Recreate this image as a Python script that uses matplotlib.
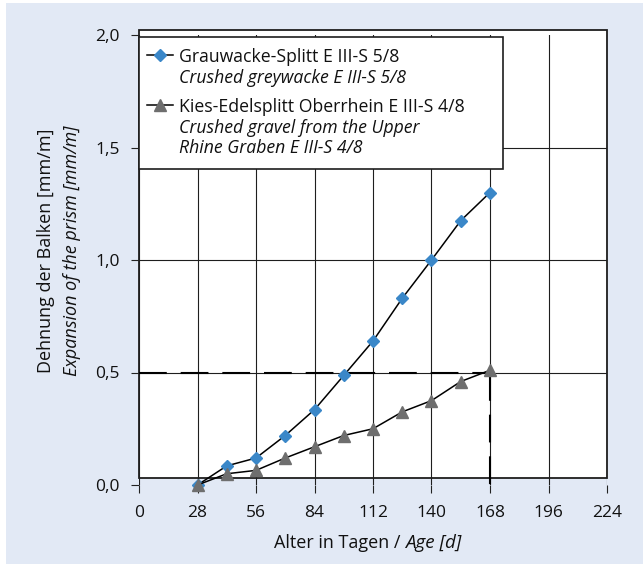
import matplotlib
matplotlib.use('Agg')
import matplotlib.pyplot as plt
from matplotlib.patches import Rectangle
from matplotlib.lines import Line2D
from matplotlib.transforms import Affine2D

plt.rcParams['font.family'] = ['Open Sans', 'DejaVu Sans']
plt.rcParams['lines.scale_dashes'] = False

# ---- data ----
days = [28, 42, 56, 70, 84, 98, 112, 126, 140, 154, 168]
greywacke = [0.0, 0.085, 0.12, 0.22, 0.335, 0.487, 0.64, 0.83, 1.0, 1.175, 1.30]
gravel = [0.0, 0.05, 0.065, 0.12, 0.17, 0.22, 0.25, 0.325, 0.375, 0.46, 0.51]
x_ticks = [0, 28, 56, 84, 112, 140, 168, 196, 224]
y_ticks = [0.0, 0.5, 1.0, 1.5, 2.0]
y_tick_labels = ['0,0', '0,5', '1,0', '1,5', '2,0']
grid_y = [0.5, 1.0, 1.5]
ref_value = 0.5
ref_day = 168
legend_de = ['Grauwacke-Splitt E III-S 5/8', 'Kies-Edelsplitt Oberrhein E III-S 4/8']
legend_en = [['Crushed greywacke E III-S 5/8'],
             ['Crushed gravel from the Upper', 'Rhine Graben E III-S 4/8']]
ylabel_de = 'Dehnung der Balken [mm/m]'
ylabel_en = 'Expansion of the prism [mm/m]'
xlabel_de = 'Alter in Tagen /'
xlabel_en = 'Age [d]'

BG = '#E2E9F5'
BLUE = '#3A87C8'
GRAY = '#6E6E6E'
FS_TICK = 12.5
FS_LEG = 12.7
FS_LAB = 13

W, H = 643, 565
fig = plt.figure(figsize=(W / 100, H / 100), dpi=100)
fig.patch.set_facecolor('white')
px = Affine2D().scale(1 / W, -1 / H).translate(0, 1) + fig.transFigure

fig.add_artist(Rectangle((6, 3), 637, 561, transform=px, facecolor=BG,
                         edgecolor='none', zorder=-10))

ax = fig.add_axes([139 / W, 1 - 485 / H, (607 - 139) / W, (485 - 35) / H])
ax.patch.set_visible(False)
for s in ax.spines.values():
    s.set_visible(False)
ax.set_xlim(0, 224)
ax.set_ylim(0, 2.0)

# plot frame (offset slightly above the zero line as in the original)
ax.add_patch(Rectangle((0, 7 / 450), 1, 455 / 450 - 7 / 450, transform=ax.transAxes,
                       facecolor='white', edgecolor='#1e1e1e', lw=1.3, zorder=0,
                       clip_on=False))

ax.set_xticks(x_ticks)
ax.set_xticklabels([str(v) for v in x_ticks])
ax.set_yticks(y_ticks)
ax.set_yticklabels(y_tick_labels)
ax.tick_params(axis='both', direction='out', length=5.8, width=0.8, color='#222222',
               labelsize=FS_TICK, labelcolor='#111111')
ax.tick_params(axis='x', pad=8.5)
ax.tick_params(axis='y', pad=8)
ax.xaxis.grid(True, color='#1e1e1e', lw=0.8)
ax.hlines(grid_y, 0, 224, color='#1e1e1e', lw=0.8, zorder=1)

ax.plot([0, ref_day], [ref_value, ref_value], color='black', lw=1.5,
        dashes=(20, 10), zorder=3, clip_on=False)
ax.plot([ref_day, ref_day], [ref_value, 0], color='black', lw=1.5,
        dashes=(20, 10), zorder=3, clip_on=False)

ax.plot(days, greywacke, color='black', lw=1.1, marker='D', ms=6.5, mfc=BLUE, mec=BLUE,
        zorder=4, clip_on=False)
ax.plot(days, gravel, color='black', lw=1.1, marker='^', ms=8.5, mfc=GRAY, mec=GRAY,
        zorder=5, clip_on=False)

# ---- legend (drawn manually for mixed upright / italic lines) ----
fig.add_artist(Rectangle((139, 36.7), 364, 132.3, transform=px, facecolor='white',
                         edgecolor='#1e1e1e', lw=1.2, zorder=6))
rows = [(61.7, [83.3]), (111.7, [133.3, 153.3])]
styles = [dict(marker='D', ms=6.5, mfc=BLUE, mec=BLUE),
          dict(marker='^', ms=8.5, mfc=GRAY, mec=GRAY)]
for i, (base, subs) in enumerate(rows):
    yc = base - 6.5
    fig.add_artist(Line2D([147, 173], [yc, yc], transform=px, color='black', lw=1.1,
                          zorder=7))
    fig.add_artist(Line2D([160], [yc], transform=px, lw=0, zorder=8, **styles[i]))
    fig.text(179, base, legend_de[i], transform=px, va='baseline', ha='left',
             fontsize=FS_LEG, color='#111111', zorder=8)
    for t, b in zip(legend_en[i], subs):
        fig.text(179, b, t, transform=px, va='baseline', ha='left', style='italic',
                 fontsize=FS_LEG, color='#111111', zorder=8)

# ---- axis labels ----
fig.text(46, 251, ylabel_de, transform=px, rotation=90, ha='center', va='center',
         fontsize=FS_LAB, color='#111111')
fig.text(72, 251, ylabel_en, transform=px, rotation=90, ha='center', va='center',
         fontsize=FS_LAB, style='italic', color='#111111')
fig.text(401, 548, xlabel_de, transform=px, ha='right', va='baseline', fontsize=FS_LAB,
         color='#111111')
fig.text(405, 548, xlabel_en, transform=px, ha='left', va='baseline', fontsize=FS_LAB + 0.5,
         style='italic', color='#111111')

fig.savefig('out.png', dpi=100, facecolor=fig.get_facecolor())
